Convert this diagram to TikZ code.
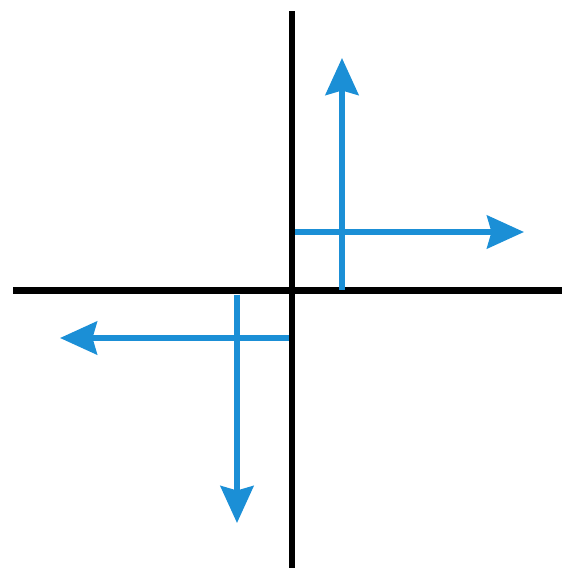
\documentclass[tikz,border=0pt]{standalone}
\usetikzlibrary{arrows.meta}
\definecolor{vecblue}{RGB}{27,143,214}
\tikzset{
  axis/.style={line width=6.5pt, black},
  vec/.style={line width=5.5pt, vecblue, -{Stealth[length=37pt, width=33pt, inset=4.5pt]}},
}
\begin{document}
\begin{tikzpicture}[x=1pt, y=-1pt]
\useasboundingbox (0,0) rectangle (562,568);
% axes
\coordinate (xl) at (13,290.5);
\coordinate (xr) at (562,290.5);
\coordinate (yt) at (292,11);
\coordinate (yb) at (292,568);
\draw[axis] (xl) -- (xr);
\draw[axis] (yt) -- (yb);
% upper right vectors
\coordinate (a1) at (342,290);
\coordinate (a2) at (342,58);
\coordinate (b1) at (295,232);
\coordinate (b2) at (524,232);
\draw[vec] (a1) -- (a2);
\draw[vec] (b1) -- (b2);
% lower left vectors
\coordinate (c1) at (288.5,338);
\coordinate (c2) at (60,338);
\coordinate (d1) at (237,294.5);
\coordinate (d2) at (237,523);
\draw[vec] (c1) -- (c2);
\draw[vec] (d1) -- (d2);
\end{tikzpicture}
\end{document}
